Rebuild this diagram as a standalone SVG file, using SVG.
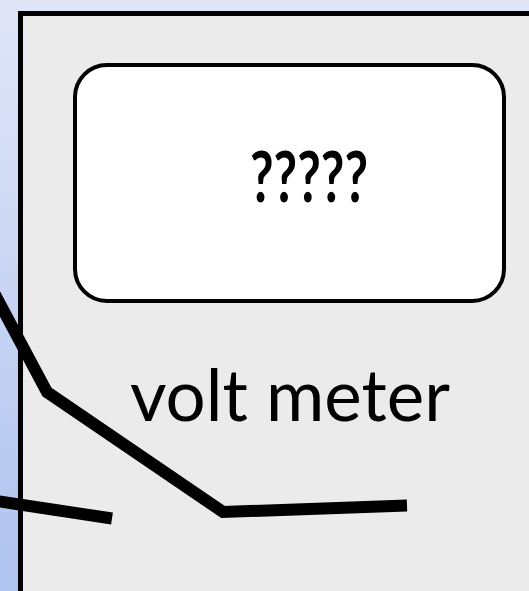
<svg xmlns="http://www.w3.org/2000/svg" width="529" height="591" viewBox="0 0 529 591">
  <defs>
    <linearGradient id="bg" x1="0" y1="0" x2="0" y2="1">
      <stop offset="0" stop-color="#e0e6f7"/>
      <stop offset="1" stop-color="#afc3ef"/>
    </linearGradient>
  </defs>
  <style>
    .wire { fill: none; stroke: #000; stroke-width: 12; stroke-linejoin: miter; stroke-linecap: butt; }
    .txt { font-family: "Lato", "Liberation Sans", sans-serif; fill: #000; }
  </style>
  <rect x="0" y="0" width="529" height="591" fill="url(#bg)"/>
  <g id="meter">
    <rect x="20.5" y="13.5" width="530" height="600" fill="#ebebeb" stroke="#000" stroke-width="5"/>
  </g>
  <g id="display">
    <rect x="75" y="65" width="429" height="236" rx="32" ry="32" fill="#fff" stroke="#000" stroke-width="4"/>
    <text class="txt" x="309" y="202" font-size="70" font-weight="bold" text-anchor="middle" textLength="118" lengthAdjust="spacingAndGlyphs">?????</text>
  </g>
  <g id="label">
    <text class="txt" x="130" y="421" font-size="72" textLength="320" lengthAdjust="spacingAndGlyphs">volt meter</text>
  </g>
  <g id="connectors">
    <polyline class="wire" points="-8,289 47,392 223,512 407,505.5"/>
    <polyline class="wire" points="-10,500 112,518.5"/>
  </g>
</svg>
